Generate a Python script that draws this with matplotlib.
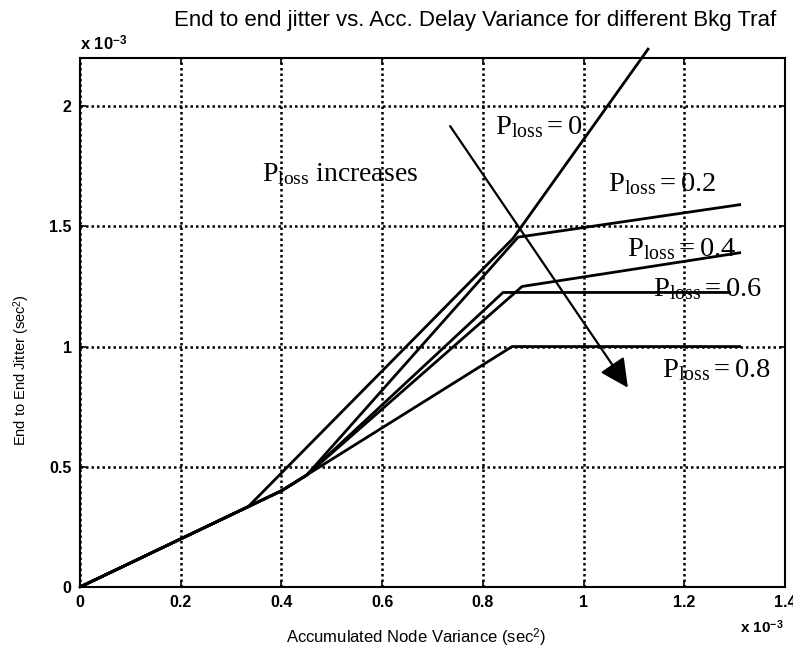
import matplotlib
matplotlib.use("Agg")
import matplotlib.pyplot as plt
from matplotlib.ticker import FixedLocator, FuncFormatter

plt.rcParams['font.family'] = ['Liberation Sans', 'DejaVu Sans']
plt.rcParams['mathtext.fontset'] = 'custom'
plt.rcParams['mathtext.rm'] = 'Liberation Serif'
plt.rcParams['mathtext.it'] = 'Liberation Serif:italic'
plt.rcParams['mathtext.sf'] = 'Liberation Sans'
plt.rcParams['mathtext.bf'] = 'Liberation Sans:bold'

# Accumulated node variance / end-to-end jitter, both in units of 1e-3 sec^2
x_p00 = [0.0, 0.334, 0.86, 1.128]
y_p00 = [0.0, 0.334, 1.45, 2.237]
x_p02 = [0.0, 0.40, 0.45, 0.87, 1.31]
y_p02 = [0.0, 0.40, 0.465, 1.455, 1.59]
x_p04 = [0.0, 0.40, 0.45, 0.878, 1.31]
y_p04 = [0.0, 0.40, 0.465, 1.25, 1.39]
x_p06 = [0.0, 0.40, 0.45, 0.84, 1.29]
y_p06 = [0.0, 0.40, 0.465, 1.225, 1.225]
x_p08 = [0.0, 0.40, 0.858, 1.31]
y_p08 = [0.0, 0.40, 1.0, 1.0]

x_ticks = [0, 0.2, 0.4, 0.6, 0.8, 1.0, 1.2, 1.4]
y_ticks = [0, 0.5, 1.0, 1.5, 2.0]

curve_labels = ["0", "0.2", "0.4", "0.6", "0.8"]
label_pos = [(0.824, 1.883), (1.048, 1.646), (1.086, 1.375), (1.138, 1.208), (1.156, 0.875)]

arrow_start = (0.735, 1.917)
arrow_end = (1.088, 0.829)

fig = plt.figure(figsize=(7.93, 6.52), dpi=100)
ax = fig.add_axes([0.1009, 0.0997, 0.889, 0.8113])

lw = 2.0
ax.plot(x_p00, y_p00, color='black', lw=lw, clip_on=False, zorder=3)
for xs, ys in [(x_p02, y_p02), (x_p04, y_p04), (x_p06, y_p06), (x_p08, y_p08)]:
    ax.plot(xs, ys, color='black', lw=lw, zorder=3)

ax.set_xlim(0, 1.4)
ax.set_ylim(0, 2.2)
ax.xaxis.set_major_locator(FixedLocator(x_ticks))
ax.yaxis.set_major_locator(FixedLocator(y_ticks))
fmt = FuncFormatter(lambda v, p: f"{v:g}")
ax.xaxis.set_major_formatter(fmt)
ax.yaxis.set_major_formatter(fmt)
ax.tick_params(direction='in', length=4, width=1.2, top=True, right=True,
               labelsize=11.5, pad=6)
for lab in ax.get_xticklabels() + ax.get_yticklabels():
    lab.set_fontweight('bold')

ax.grid(True, color='black', linestyle=(0, (1, 1.2)), linewidth=1.8)
ax.set_axisbelow(True)
for sp in ax.spines.values():
    sp.set_linewidth(1.5)

ax.set_xlabel(r'Accumulated Node Variance (sec$^{\mathsf{2}}$)', fontsize=12)
ax.xaxis.set_label_coords(0.477, -0.075)
ax.set_ylabel(r'End to End Jitter (sec$^{\mathsf{2}}$)', fontsize=10.5)
ax.yaxis.set_label_coords(-0.068, 0.41)

fig.text(475 / 793, 1 - 26 / 652, 'End to end jitter vs. Acc. Delay Variance for different Bkg Traf',
         ha='center', va='baseline', fontsize=16)
fig.text(80 / 793, 1 - 50 / 652, r'x 10$^{\mathbf{-3}}$', ha='left', va='baseline',
         fontsize=12, fontweight='bold')
fig.text(740 / 793, 1 - 633 / 652, r'x 10$^{\mathbf{-3}}$', ha='left', va='baseline',
         fontsize=11, fontweight='bold')

for lbl, (tx, ty) in zip(curve_labels, label_pos):
    ax.text(tx, ty, r'$\mathrm{P_{loss}} = ' + lbl + '$', fontsize=20.5,
            ha='left', va='baseline', zorder=4)
ax.text(0.361, 1.69, r'$\mathrm{P_{loss}}$ increases', fontsize=20,
        family='Liberation Serif', ha='left', va='baseline')

ax.annotate('', xy=arrow_end, xytext=arrow_start,
            arrowprops=dict(arrowstyle='-|>,head_length=0.5,head_width=0.25',
                            color='black', lw=1.6, mutation_scale=35,
                            shrinkA=0, shrinkB=0), zorder=4)

fig.savefig('out.png', dpi=100)
